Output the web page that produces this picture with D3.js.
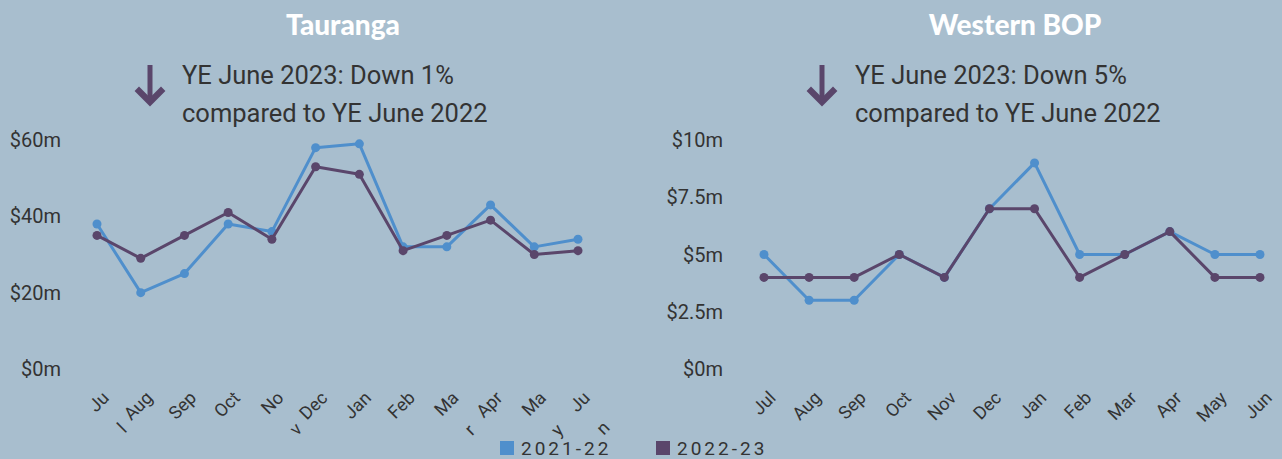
<!DOCTYPE html>
<html>
<head>
<meta charset="utf-8">
<script src="https://cdn.jsdelivr.net/npm/d3@7"></script>
<style>
    body { margin: 0; background: #a8bece; }
    svg { display: block; }
    .axis-label { font-family: Roboto, sans-serif; fill: #333; }
</style>
</head>
<body>
<div id="chart"></div>
<script>

// Data
let months = ["Jul", "Aug", "Sep", "Oct", "Nov", "Dec", "Jan", "Feb", "Mar", "Apr", "May", "Jun"];
// left panel tick labels are wrapped in the original
let tickLabelsLeft = ["Ju\nl", "Aug", "Sep", "Oct", "No\nv", "Dec", "Jan", "Feb", "Ma\nr", "Apr", "Ma\ny", "Ju\nn"];
let tickLabelsRight = ["Jul", "Aug", "Sep", "Oct", "Nov", "Dec", "Jan", "Feb", "Mar", "Apr", "May", "Jun"];

let seriesNames = ["2021-22", "2022-23"];

let tauranga2122 = [38, 20, 25, 38, 36, 58, 59, 32, 32, 43, 32, 34];
let tauranga2223 = [35, 29, 35, 41, 34, 53, 51, 31, 35, 39, 30, 31];
let taurangaTicks = [0, 20, 40, 60];

let westernBop2122 = [5, 3, 3, 5, 4, 7, 9, 5, 5, 6, 5, 5];
let westernBop2223 = [4, 4, 4, 5, 4, 7, 7, 4, 5, 6, 4, 4];
let westernBopTicks = [0, 2.5, 5, 7.5, 10];

let colors = {"2021-22": "#4f8fcc", "2022-23": "#5a466b"};

const W = 1282, H = 459;

let svg = d3.select("#chart").append("svg")
    .attr("width", W)
    .attr("height", H);

svg.append("rect")
    .attr("width", W)
    .attr("height", H)
    .attr("fill", "#a8bece");


/*
 * One panel: title, note with arrow, y labels, two lines
 */
function drawPanel(opts) {
    let g = svg.append("g");

    let x = d3.scalePoint()
        .domain(months)
        .range([opts.x0, opts.x1]);

    let y = d3.scaleLinear()
        .domain([0, d3.max(opts.ticks)])
        .range([369, 140]);

    // title
    g.append("text")
        .attr("x", opts.titleX)
        .attr("y", 35)
        .attr("text-anchor", "middle")
        .attr("fill", "white")
        .style("font-family", "Lato, sans-serif")
        .style("font-weight", 900)
        .style("font-size", "28px")
        .text(opts.title);

    // arrow
    let ax = opts.arrowX;
    g.append("line")
        .attr("x1", ax).attr("x2", ax)
        .attr("y1", 65).attr("y2", 100)
        .attr("stroke", colors["2022-23"])
        .attr("stroke-width", 5);
    g.append("path")
        .attr("d", `M${ax - 14},${91} L${ax},${105} L${ax + 14},${91} L${ax + 11},${88} L${ax},${99} L${ax - 11},${88} Z`)
        .attr("fill", colors["2022-23"])
        .attr("stroke", colors["2022-23"])
        .attr("stroke-width", 2)
        .attr("stroke-linejoin", "miter");

    // note
    let note = g.append("text")
        .attr("fill", "#333")
        .style("font-family", "Roboto, sans-serif")
        .style("font-size", "25.5px");
    note.append("tspan").attr("x", opts.noteX).attr("y", 84).text(opts.note1);
    note.append("tspan").attr("x", opts.noteX).attr("y", 122).text(opts.note2);

    // y labels
    g.selectAll(".ylab")
        .data(opts.ticks)
        .join("text")
        .attr("class", "axis-label")
        .attr("x", opts.yLabelX)
        .attr("y", d => y(d))
        .attr("dy", "0.35em")
        .attr("text-anchor", "end")
        .style("font-size", "20px")
        .text(d => "$" + d + "m");

    // x labels, rotated
    let xl = g.selectAll(".xlab")
        .data(months)
        .join("text")
        .attr("class", "axis-label")
        .attr("text-anchor", "end")
        .style("font-size", "18px")
        .attr("transform", d => `translate(${x(d) + 8.5},${394.5}) rotate(-45)`);

    xl.each(function(d, i) {
        let lines = opts.tickLabels[i].split("\n");
        let t = d3.select(this);
        let first = t.append("tspan")
            .attr("x", 0)
            .attr("y", 0)
            .attr("dy", "0.35em")
            .text(lines[0]);
        if (lines.length > 1) {
            // wrapped part sits centred under the first line
            let sec = t.append("tspan")
                .attr("y", 0)
                .attr("dy", "2.3em")
                .text(lines[1]);
            let w1 = first.node().getComputedTextLength();
            let w2 = sec.node().getComputedTextLength();
            sec.attr("x", -(w1 - w2) / 2 - 2);
        }
    });

    // lines
    let line = d3.line()
        .x((d, i) => x(months[i]))
        .y(d => y(d));

    opts.series.forEach((vals, k) => {
        let c = colors[seriesNames[k]];
        g.append("path")
            .datum(vals)
            .attr("fill", "none")
            .attr("stroke", c)
            .attr("stroke-width", 3)
            .attr("stroke-linejoin", "round")
            .attr("d", line);
        g.selectAll(".pt" + k)
            .data(vals)
            .join("circle")
            .attr("cx", (d, i) => x(months[i]))
            .attr("cy", d => y(d))
            .attr("r", 4.5)
            .attr("fill", c);
    });
}

drawPanel({
    title: "Tauranga",
    titleX: 343,
    arrowX: 150,
    noteX: 182,
    note1: "YE June 2023: Down 1%",
    note2: "compared to YE June 2022",
    yLabelX: 61,
    x0: 97, x1: 578,
    ticks: taurangaTicks,
    tickLabels: tickLabelsLeft,
    series: [tauranga2122, tauranga2223]
});

drawPanel({
    title: "Western BOP",
    titleX: 1015,
    arrowX: 822,
    noteX: 855,
    note1: "YE June 2023: Down 5%",
    note2: "compared to YE June 2022",
    yLabelX: 723,
    x0: 764, x1: 1260,
    ticks: westernBopTicks,
    tickLabels: tickLabelsRight,
    series: [westernBop2122, westernBop2223]
});

// legend
let legend = svg.append("g");
let legendX = [500, 656];
seriesNames.forEach((name, i) => {
    legend.append("rect")
        .attr("x", legendX[i])
        .attr("y", 441)
        .attr("width", 14)
        .attr("height", 14)
        .attr("fill", colors[name]);
    legend.append("text")
        .attr("x", legendX[i] + 21)
        .attr("y", 455)
        .attr("fill", "#333")
        .style("font-family", "Roboto, sans-serif")
        .style("font-size", "19px")
        .style("letter-spacing", "3px")
        .text(name);
});

</script>
</body>
</html>
